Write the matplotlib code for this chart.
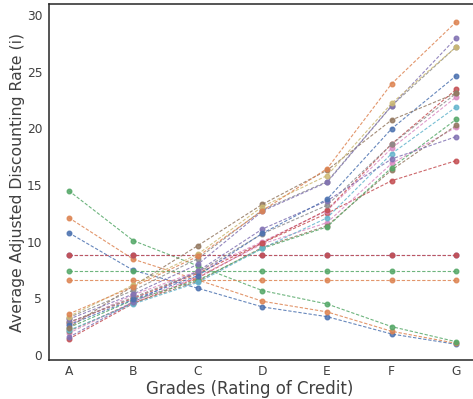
import matplotlib
matplotlib.use("Agg")
import matplotlib.pyplot as plt

grades = ["A", "B", "C", "D", "E", "F", "G"]

# decreasing series
dec_blue   = [10.79, 7.47, 5.89, 4.24, 3.38, 1.85, 0.94]
dec_orange = [12.12, 8.45, 6.62, 4.74, 3.80, 2.09, 1.03]
dec_green  = [14.50, 10.09, 7.86, 5.68, 4.50, 2.50, 1.17]

# flat series
flat_red    = [8.83] * 7
flat_green  = [7.41] * 7
flat_orange = [6.59] * 7

# increasing series
inc_orange  = [3.62, 6.03, 8.70, 12.74, 16.44, 23.94, 29.40]
inc_olive   = [3.38, 6.18, 8.90, 13.10, 15.83, 22.21, 27.20]
inc_purple  = [3.15, 5.38, 8.00, 12.70, 15.24, 21.98, 27.98]
inc_gray    = [3.30, 5.70, 8.50, 12.80, 15.30, 22.00, 27.20]
inc_brown   = [2.41, 6.10, 9.65, 13.30, 16.30, 20.74, 23.10]
inc_blue    = [2.65, 4.90, 7.00, 10.74, 13.74, 19.97, 24.65]
inc_purple2 = [1.56, 4.68, 7.40, 11.12, 13.60, 17.30, 19.27]
inc_gray2   = [2.88, 5.09, 7.30, 10.70, 13.21, 18.60, 23.10]
inc_red     = [2.88, 5.00, 7.20, 9.91, 12.80, 18.62, 23.45]
inc_pink    = [2.70, 5.30, 7.40, 10.00, 12.74, 18.24, 22.77]
inc_cyan    = [2.18, 4.50, 6.40, 9.41, 12.10, 17.77, 21.89]
inc_green   = [2.41, 4.85, 6.60, 9.41, 11.30, 16.53, 20.80]
inc_brown2  = [2.10, 4.60, 6.50, 9.50, 11.40, 16.33, 20.27]
inc_pink2   = [1.91, 4.70, 6.90, 9.80, 11.68, 16.90, 20.10]
inc_red2    = [1.40, 4.55, 6.80, 9.90, 12.50, 15.38, 17.15]

pal = {"blue": "#4C72B0", "orange": "#DD8452", "green": "#55A868",
       "red": "#C44E52", "purple": "#8172B3", "brown": "#937860",
       "pink": "#DA8BC3", "gray": "#8C8C8C", "olive": "#CCB974",
       "cyan": "#64B5CD"}

series = [
    (dec_blue, "blue"), (dec_orange, "orange"), (dec_green, "green"),
    (flat_red, "purple"), (flat_red, "red"), (flat_green, "green"), (flat_orange, "orange"),
    (inc_red2, "red"), (inc_pink2, "pink"), (inc_brown2, "brown"), (inc_green, "green"),
    (inc_cyan, "cyan"), (inc_pink, "pink"), (inc_red, "red"), (inc_gray2, "gray"),
    (inc_purple2, "purple"), (inc_blue, "blue"), (inc_brown, "brown"),
    (inc_gray, "gray"), (inc_purple, "purple"), (inc_olive, "olive"), (inc_orange, "orange"),
]

plt.rcParams["font.family"] = ["DejaVu Sans"]
fig = plt.figure(figsize=(4.73, 3.99), dpi=100)
ax = fig.add_axes([0.1042, 0.097, 0.9015, 0.8922])

x = list(range(len(grades)))
for vals, c in series:
    ax.plot(x, vals, linestyle="--", marker="o", color=pal[c], lw=0.8,
            ms=3.3, alpha=0.85, dashes=(3, 1.6))

ax.set_xlim(-0.3, 6.3)
ax.set_ylim(-0.468, 30.94)
ax.set_xticks(x)
ax.set_xticklabels(grades)
ax.set_yticks([0, 5, 10, 15, 20, 25, 30])
ax.tick_params(axis="y", length=0, labelsize=8.8, colors=".25", pad=5)
ax.tick_params(axis="x", length=0, labelsize=8.8, colors=".25", pad=3.5)
for s in ax.spines.values():
    s.set_color(".15")
    s.set_linewidth(1.1)
ax.set_xlabel("Grades (Rating of Credit)", fontsize=12.0, color=".25")
ax.xaxis.set_label_coords(0.47, -0.056)
ax.set_ylabel("Average Adjusted Discounting Rate (i)", fontsize=11.3, color=".25")
ax.yaxis.set_label_coords(-0.058, 0.5)

fig.savefig("out.png", dpi=100)
